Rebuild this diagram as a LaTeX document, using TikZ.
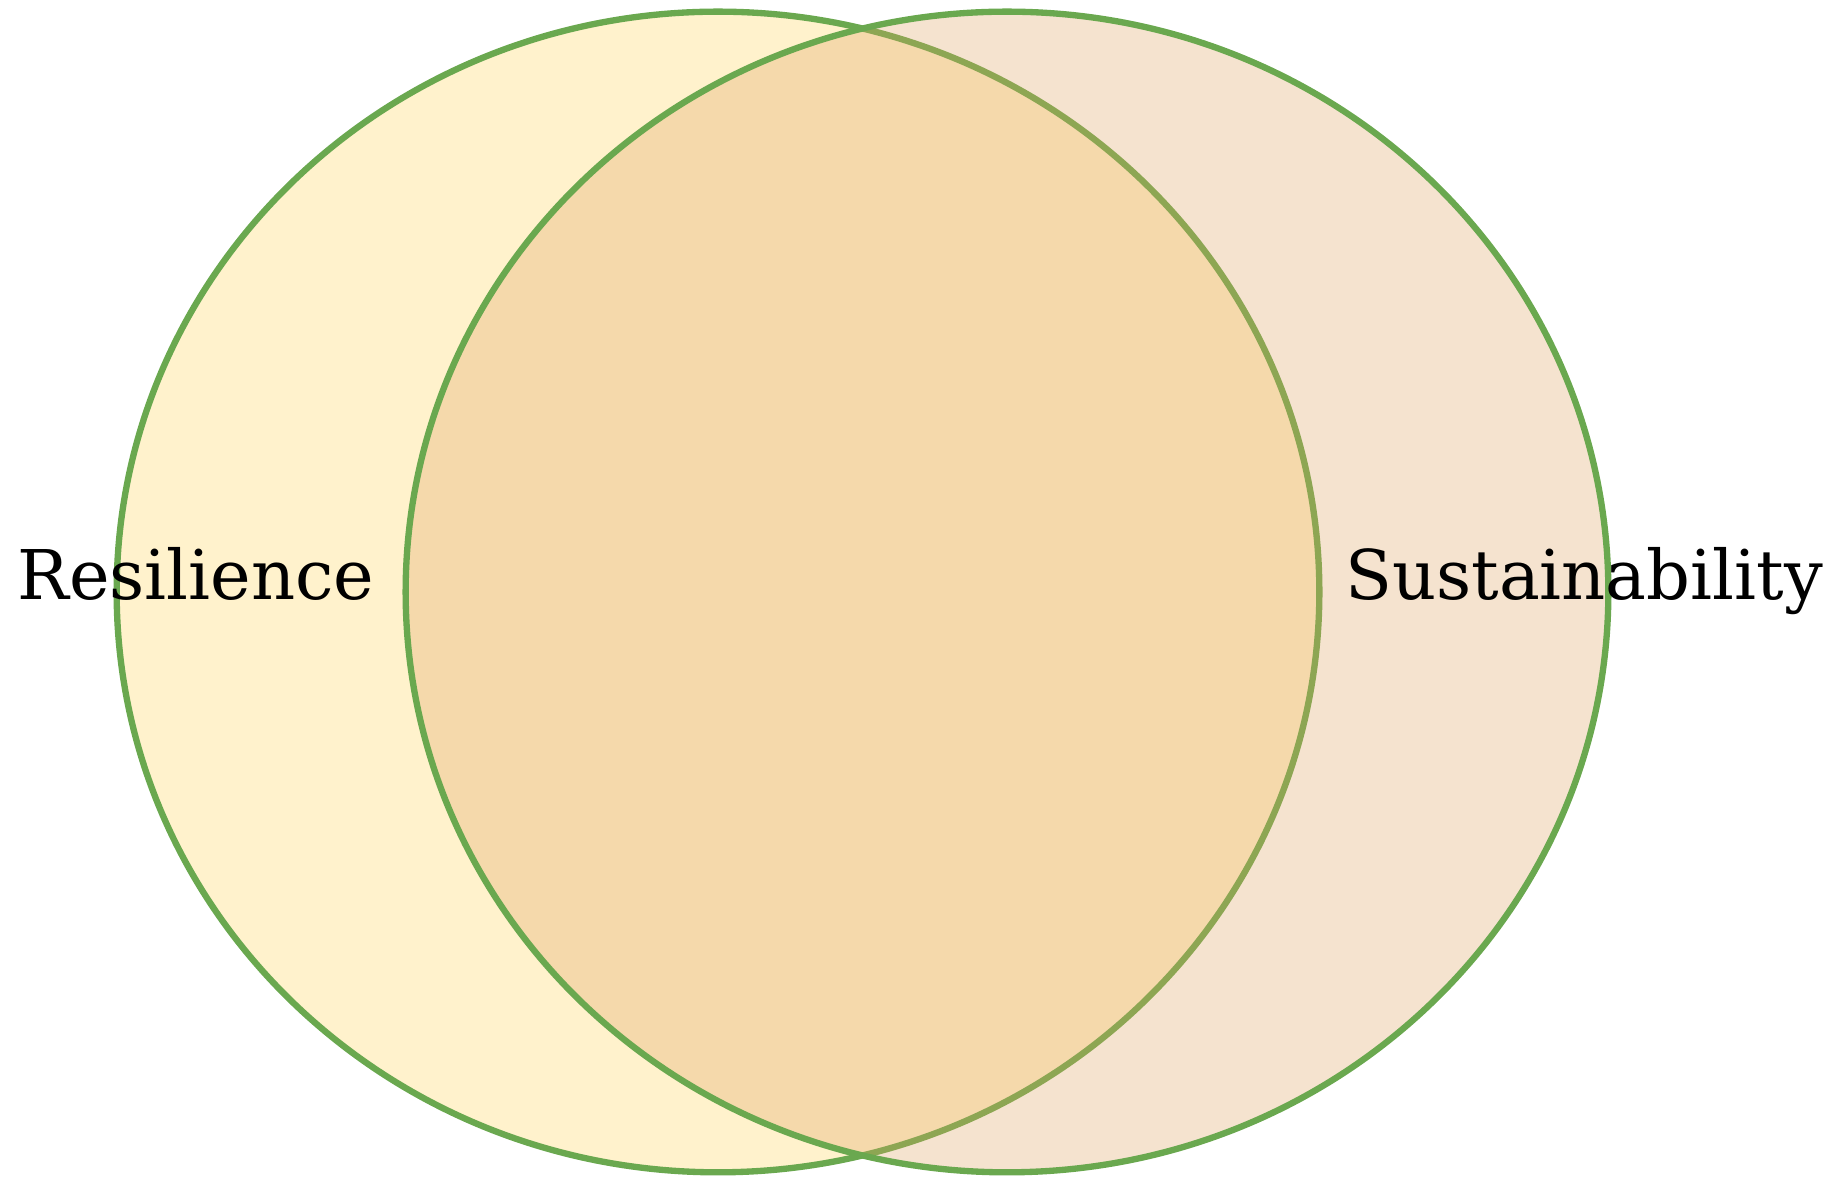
\documentclass[tikz,border=0pt]{standalone}
\usepackage{fontspec}
\setmainfont{DejaVu Serif}
\usepackage{tikz}
\usetikzlibrary{shapes.geometric, positioning}

\definecolor{setgreen}{HTML}{6AA84F}
\definecolor{resfill}{HTML}{FFF2CC}
\definecolor{susfill}{RGB}{222,162,95}

\begin{document}
\begin{tikzpicture}[
    x=0.01cm, y=-0.01cm,
    setbox/.style={
      ellipse, draw=setgreen, line width=1.8pt,
      minimum width=12.02cm, minimum height=11.6cm, inner sep=0pt
    },
    lbl/.style={
      font=\fontsize{19.5}{23}\selectfont, anchor=base, inner sep=0pt
    }
  ]
  \useasboundingbox (0,0) rectangle (1845,1177);

  \node[setbox, fill=resfill] (res) at (718,592) {};
  \node[setbox, fill=susfill, fill opacity=0.3] (sus) at (1007,592) {};

  \node[lbl] (reslbl) at (196,600) {Resilience};
  \node[lbl] (suslbl) at (1584,600) {Sustainability};
\end{tikzpicture}
\end{document}
